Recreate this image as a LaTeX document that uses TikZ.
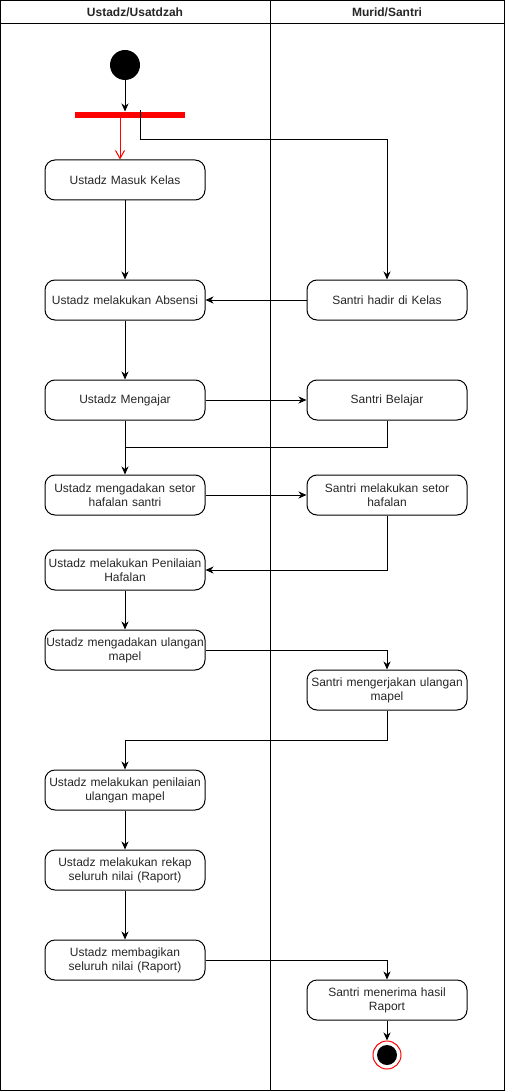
\documentclass[tikz,border=0pt]{standalone}
\usepackage{fontspec}
\setmainfont{Liberation Sans}
\usetikzlibrary{arrows.meta}
\begin{document}
\begin{tikzpicture}[x=1pt,y=-1pt,line width=1pt,
  act/.style={draw,rounded corners=10pt,minimum width=160pt,minimum height=40pt,
    text width=158pt,align=center,inner sep=1pt,
    font=\fontsize{12}{14}\selectfont,text=black!85},
  lane/.style={font=\bfseries\fontsize{12}{14}\selectfont,text=black!85},
  arr/.style={-{Stealth[length=8pt,width=7pt,inset=2.5pt]}},
  redarr/.style={draw=red,-{Straight Barb[length=8pt,width=9pt]}}]
\useasboundingbox (0,0) rectangle (505,1091);
% swimlane frame
\draw (0.5,0.5) rectangle (504.5,1090.5);
\draw (0.5,23.5) -- (504.5,23.5);
\draw (270.5,0.5) -- (270.5,1090.5);
\node[lane] (h1) at (135,12) {Ustadz/Usatdzah};
\node[lane] (h2) at (387,12) {Murid/Santri};
% start and fork
\node[circle,fill=black,minimum size=30pt,inner sep=0pt] (start) at (125,65) {};
\node[fill=red,minimum width=110pt,minimum height=6pt,inner sep=0pt] (fork) at (130,115) {};
\coordinate (f1) at (140,110);
\coordinate (f2) at (120,118);
% teacher activities
\node[act] (a1) at (125,180) {Ustadz Masuk Kelas};
\node[act] (a2) at (125,300) {Ustadz melakukan Absensi};
\node[act] (a3) at (125,400) {Ustadz Mengajar};
\node[act] (a4) at (125,495) {Ustadz mengadakan setor\\hafalan santri};
\node[act] (a5) at (125,570) {Ustadz melakukan Penilaian\\Hafalan};
\node[act] (a6) at (125,650) {Ustadz mengadakan ulangan\\mapel};
\node[act] (a7) at (125,790) {Ustadz melakukan penilaian\\ulangan mapel};
\node[act] (a8) at (125,870) {Ustadz melakukan rekap\\seluruh nilai (Raport)};
\node[act] (a9) at (125,960) {Ustadz membagikan\\seluruh nilai (Raport)};
% student activities
\node[act] (s1) at (387,300) {Santri hadir di Kelas};
\node[act] (s2) at (387,400) {Santri Belajar};
\node[act] (s3) at (387,495) {Santri melakukan setor\\hafalan};
\node[act] (s4) at (387,690) {Santri mengerjakan ulangan\\mapel};
\node[act] (s5) at (387,1000) {Santri menerima hasil\\Raport};
% end
\node[circle,draw=red,fill=white,minimum size=28pt,inner sep=0pt] (end) at (387,1055) {};
\node[circle,fill=black,minimum size=20pt,inner sep=0pt] (endin) at (end) {};
% flow
\draw[arr] (start) -- (fork.north -| start);
\draw[redarr] (f2) -- (a1.north -| f2);
\draw[arr] (f1) -- (140,140) -| (s1.north);
\draw[arr] (a1) -- (a2);
\draw[arr] (s1) -- (a2);
\draw[arr] (a2) -- (a3);
\draw[arr] (a3) -- (s2);
\draw[arr] (a3) -- (a4);
\draw (s2.south) |- (125,447);
\draw[arr] (a4) -- (s3);
\draw[arr] (s3.south) |- (a5.east);
\draw[arr] (a5) -- (a6);
\draw[arr] (a6.east) -| (s4.north);
\draw[arr] (s4.south) -- (387,740) -| (a7.north);
\draw[arr] (a7) -- (a8);
\draw[arr] (a8) -- (a9);
\draw[arr] (a9.east) -| (s5.north);
\draw[arr] (s5) -- (end);
\end{tikzpicture}
\end{document}
